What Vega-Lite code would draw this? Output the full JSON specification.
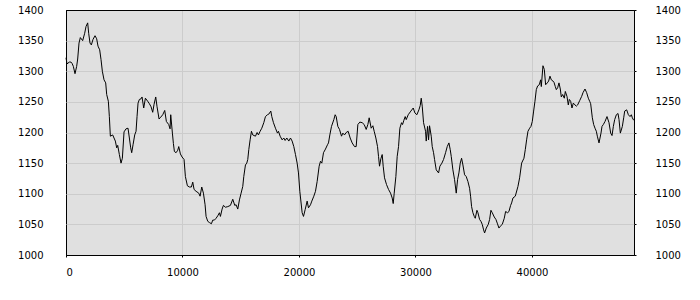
{
  "$schema": "https://vega.github.io/schema/vega-lite/v6.json",
  "width": 568,
  "height": 245,
  "autosize": "none",
  "padding": {"left": 66, "top": 10, "right": 66, "bottom": 45},
  "background": "#ffffff",
  "view": {"fill": "#e0e0e0", "stroke": "#000000", "strokeWidth": 1},
  "config": {
    "axis": {"labelFont": "DejaVu Sans", "labelFontSize": 10, "labelColor": "#000000", "domain": false, "tickColor": "#000000", "gridColor": "#cccccc", "gridWidth": 1, "title": null}
  },
  "data": {"values": [
    {"x":0,"y":1322},{"x":86,"y":1312},{"x":286,"y":1315},{"x":429,"y":1315},{"x":515,"y":1313},{"x":630,"y":1308},{"x":773,"y":1296},{"x":916,"y":1308},{"x":1002,"y":1320},{"x":1116,"y":1346},{"x":1231,"y":1355},{"x":1431,"y":1350},{"x":1603,"y":1362},{"x":1718,"y":1373},{"x":1861,"y":1379},{"x":1947,"y":1362},{"x":2061,"y":1346},{"x":2176,"y":1343},{"x":2319,"y":1352},{"x":2491,"y":1358},{"x":2634,"y":1353},{"x":2748,"y":1341},{"x":2891,"y":1335},{"x":3006,"y":1319},{"x":3120,"y":1300},{"x":3264,"y":1286},{"x":3407,"y":1281},{"x":3493,"y":1262},{"x":3636,"y":1251},{"x":3722,"y":1226},{"x":3808,"y":1194},{"x":4008,"y":1196},{"x":4237,"y":1186},{"x":4352,"y":1175},{"x":4438,"y":1179},{"x":4581,"y":1164},{"x":4724,"y":1150},{"x":4839,"y":1158},{"x":4982,"y":1201},{"x":5153,"y":1206},{"x":5325,"y":1207},{"x":5440,"y":1191},{"x":5554,"y":1175},{"x":5640,"y":1167},{"x":5755,"y":1180},{"x":5898,"y":1196},{"x":6013,"y":1202},{"x":6098,"y":1226},{"x":6184,"y":1248},{"x":6299,"y":1254},{"x":6442,"y":1255},{"x":6528,"y":1258},{"x":6671,"y":1240},{"x":6814,"y":1256},{"x":7015,"y":1251},{"x":7158,"y":1247},{"x":7301,"y":1242},{"x":7444,"y":1233},{"x":7559,"y":1246},{"x":7702,"y":1258},{"x":7816,"y":1242},{"x":7988,"y":1222},{"x":8131,"y":1225},{"x":8303,"y":1229},{"x":8475,"y":1236},{"x":8618,"y":1218},{"x":8819,"y":1213},{"x":8933,"y":1206},{"x":8990,"y":1229},{"x":9134,"y":1199},{"x":9220,"y":1182},{"x":9305,"y":1169},{"x":9448,"y":1167},{"x":9592,"y":1171},{"x":9678,"y":1177},{"x":9821,"y":1165},{"x":9964,"y":1160},{"x":10135,"y":1156},{"x":10250,"y":1128},{"x":10422,"y":1113},{"x":10594,"y":1111},{"x":10765,"y":1111},{"x":10880,"y":1119},{"x":10995,"y":1107},{"x":11166,"y":1104},{"x":11395,"y":1101},{"x":11510,"y":1096},{"x":11653,"y":1111},{"x":11796,"y":1101},{"x":11940,"y":1082},{"x":12025,"y":1063},{"x":12169,"y":1055},{"x":12312,"y":1053},{"x":12484,"y":1051},{"x":12598,"y":1057},{"x":12741,"y":1057},{"x":12884,"y":1060},{"x":13028,"y":1064},{"x":13171,"y":1069},{"x":13257,"y":1063},{"x":13400,"y":1075},{"x":13514,"y":1081},{"x":13686,"y":1078},{"x":13886,"y":1079},{"x":14115,"y":1081},{"x":14316,"y":1091},{"x":14487,"y":1081},
    {"x":14603,"y":1082},{"x":14746,"y":1075},{"x":14889,"y":1090},{"x":15032,"y":1101},{"x":15175,"y":1112},{"x":15261,"y":1128},{"x":15404,"y":1147},{"x":15519,"y":1150},{"x":15605,"y":1156},{"x":15691,"y":1172},{"x":15805,"y":1188},{"x":15920,"y":1202},{"x":16034,"y":1196},{"x":16263,"y":1194},{"x":16406,"y":1200},{"x":16521,"y":1196},{"x":16664,"y":1202},{"x":16807,"y":1207},{"x":16979,"y":1216},{"x":17122,"y":1226},{"x":17294,"y":1229},{"x":17409,"y":1230},{"x":17581,"y":1235},{"x":17666,"y":1226},{"x":17810,"y":1216},{"x":17981,"y":1207},{"x":18153,"y":1199},{"x":18239,"y":1202},{"x":18382,"y":1194},{"x":18554,"y":1188},{"x":18697,"y":1191},{"x":18812,"y":1187},{"x":18955,"y":1191},{"x":19127,"y":1186},{"x":19270,"y":1191},{"x":19413,"y":1186},{"x":19556,"y":1177},{"x":19699,"y":1164},{"x":19843,"y":1150},{"x":19957,"y":1134},{"x":20072,"y":1104},{"x":20272,"y":1069},{"x":20387,"y":1063},{"x":20530,"y":1074},{"x":20701,"y":1088},{"x":20816,"y":1077},{"x":20988,"y":1082},{"x":21102,"y":1088},{"x":21274,"y":1096},{"x":21417,"y":1104},{"x":21560,"y":1120},{"x":21732,"y":1145},{"x":21847,"y":1153},{"x":21961,"y":1150},{"x":22104,"y":1167},{"x":22276,"y":1173},{"x":22448,"y":1180},{"x":22534,"y":1183},{"x":22649,"y":1196},{"x":22792,"y":1210},{"x":22992,"y":1221},{"x":23107,"y":1229},{"x":23193,"y":1226},{"x":23336,"y":1210},{"x":23479,"y":1205},{"x":23651,"y":1194},{"x":23765,"y":1199},{"x":23908,"y":1196},{"x":24052,"y":1200},{"x":24223,"y":1202},{"x":24395,"y":1191},{"x":24567,"y":1183},{"x":24767,"y":1177},{"x":24910,"y":1177},{"x":25054,"y":1213},{"x":25226,"y":1217},{"x":25426,"y":1216},{"x":25598,"y":1213},{"x":25770,"y":1205},{"x":25913,"y":1213},{"x":26027,"y":1224},{"x":26199,"y":1207},{"x":26342,"y":1211},{"x":26457,"y":1202},{"x":26600,"y":1191},{"x":26743,"y":1177},{"x":26829,"y":1161},{"x":26915,"y":1145},{"x":27029,"y":1157},{"x":27144,"y":1164},{"x":27230,"y":1145},{"x":27344,"y":1126},{"x":27516,"y":1115},{"x":27688,"y":1107},{"x":27860,"y":1101},{"x":28003,"y":1093},{"x":28089,"y":1084},{"x":28175,"y":1101},{"x":28318,"y":1128},{"x":28432,"y":1161},{"x":28547,"y":1177},{"x":28661,"y":1207},{"x":28805,"y":1216},{"x":28891,"y":1213},{"x":29005,"y":1220},{"x":29120,"y":1226},{"x":29206,"y":1221},{"x":29377,"y":1229},{"x":29606,"y":1235},{"x":29807,"y":1240},{"x":29950,"y":1232},{"x":30122,"y":1229},{"x":30294,"y":1237},{"x":30408,"y":1244},{"x":30494,"y":1256},{"x":30580,"y":1243},{"x":30694,"y":1216},{"x":30866,"y":1202},{"x":30923,"y":1186},{"x":31038,"y":1210},{"x":31124,"y":1188},{"x":31210,"y":1211},{"x":31353,"y":1194},{"x":31439,"y":1177},{"x":31553,"y":1167},{"x":31639,"y":1156},{"x":31782,"y":1139},{"x":31983,"y":1134},{"x":32097,"y":1145},{"x":32269,"y":1150},{"x":32412,"y":1156},{"x":32584,"y":1167},{"x":32727,"y":1177},{"x":32871,"y":1183},{"x":32985,"y":1172},{"x":33071,"y":1161},{"x":33214,"y":1139},{"x":33357,"y":1123},{"x":33500,"y":1101},{"x":33615,"y":1123},{"x":33730,"y":1134},{"x":33844,"y":1150},{"x":33959,"y":1158},{"x":34073,"y":1147},{"x":34216,"y":1131},{"x":34359,"y":1128},{"x":34503,"y":1120},{"x":34646,"y":1109},
    {"x":34732,"y":1096},{"x":34818,"y":1079},{"x":34932,"y":1069},{"x":35047,"y":1063},{"x":35133,"y":1060},{"x":35276,"y":1073},{"x":35362,"y":1069},{"x":35505,"y":1058},{"x":35620,"y":1055},{"x":35734,"y":1050},{"x":35849,"y":1041},{"x":35935,"y":1036},{"x":36078,"y":1044},{"x":36249,"y":1050},{"x":36364,"y":1058},{"x":36478,"y":1073},{"x":36593,"y":1069},{"x":36765,"y":1062},{"x":36908,"y":1058},{"x":37022,"y":1052},{"x":37166,"y":1044},{"x":37280,"y":1047},{"x":37452,"y":1050},{"x":37624,"y":1060},{"x":37738,"y":1071},{"x":37910,"y":1069},{"x":38025,"y":1071},{"x":38168,"y":1081},{"x":38254,"y":1085},{"x":38368,"y":1093},{"x":38569,"y":1096},{"x":38798,"y":1112},{"x":38941,"y":1126},{"x":39113,"y":1150},{"x":39313,"y":1158},{"x":39428,"y":1172},{"x":39542,"y":1188},{"x":39657,"y":1202},{"x":39800,"y":1207},{"x":39915,"y":1210},{"x":40029,"y":1218},{"x":40144,"y":1235},{"x":40258,"y":1251},{"x":40373,"y":1270},{"x":40487,"y":1276},{"x":40630,"y":1278},{"x":40745,"y":1286},{"x":40802,"y":1275},{"x":40945,"y":1309},{"x":41060,"y":1303},{"x":41174,"y":1278},{"x":41318,"y":1281},{"x":41432,"y":1284},{"x":41547,"y":1292},{"x":41661,"y":1286},{"x":41804,"y":1284},{"x":41890,"y":1282},{"x":42005,"y":1275},{"x":42091,"y":1270},{"x":42205,"y":1273},{"x":42320,"y":1281},{"x":42434,"y":1271},{"x":42520,"y":1258},{"x":42635,"y":1262},{"x":42778,"y":1256},{"x":42864,"y":1267},{"x":43007,"y":1259},{"x":43121,"y":1245},{"x":43207,"y":1254},{"x":43322,"y":1251},{"x":43436,"y":1240},{"x":43551,"y":1248},{"x":43694,"y":1245},{"x":43809,"y":1243},{"x":43923,"y":1245},{"x":44095,"y":1252},{"x":44267,"y":1259},{"x":44381,"y":1265},{"x":44553,"y":1271},{"x":44696,"y":1265},{"x":44839,"y":1256},{"x":44954,"y":1251},{"x":45040,"y":1247},{"x":45183,"y":1224},{"x":45297,"y":1213},{"x":45412,"y":1207},{"x":45527,"y":1202},{"x":45613,"y":1194},{"x":45756,"y":1183},{"x":45927,"y":1199},{"x":46013,"y":1210},{"x":46128,"y":1213},{"x":46271,"y":1218},{"x":46443,"y":1226},{"x":46615,"y":1216},{"x":46758,"y":1199},{"x":46873,"y":1195},{"x":46987,"y":1210},{"x":47102,"y":1221},{"x":47245,"y":1229},{"x":47388,"y":1231},{"x":47474,"y":1221},{"x":47588,"y":1199},{"x":47760,"y":1210},{"x":47875,"y":1224},{"x":47961,"y":1235},{"x":48132,"y":1237},{"x":48276,"y":1229},{"x":48419,"y":1226},{"x":48533,"y":1229},{"x":48619,"y":1224},{"x":48734,"y":1220}
  ]},
  "encoding": {
    "x": {"field": "x", "type": "quantitative", "scale": {"domain": [0, 48760], "nice": false, "zero": false},
      "axis": {"values": [0, 10000, 20000, 30000, 40000], "format": "d", "tickSize": 2, "labelPadding": 10, "grid": true,
        "gridColor": {"condition": {"test": "datum.value === 0", "value": "#000000"}, "value": "#cccccc"}}}
  },
  "layer": [
    {
      "mark": {"type": "line", "color": "#000000", "strokeWidth": 1, "interpolate": "linear"},
      "encoding": {
        "y": {"field": "y", "type": "quantitative", "scale": {"domain": [1000, 1400], "nice": false, "zero": false},
          "axis": {"orient": "left", "values": [1000, 1050, 1100, 1150, 1200, 1250, 1300, 1350, 1400], "format": "d", "ticks": false, "labelPadding": 23, "grid": true,
            "gridColor": {"condition": {"test": "datum.value === 1000 || datum.value === 1400", "value": "#000000"}, "value": "#cccccc"}}}
      }
    },
    {
      "mark": {"type": "line", "opacity": 0},
      "encoding": {
        "y": {"field": "y", "type": "quantitative", "scale": {"domain": [1000, 1400], "nice": false, "zero": false},
          "axis": {"orient": "right", "values": [1000, 1050, 1100, 1150, 1200, 1250, 1300, 1350, 1400], "format": "d", "tickSize": 2, "labelPadding": 19, "grid": false}}
      }
    }
  ],
  "resolve": {"scale": {"y": "independent"}}
}
